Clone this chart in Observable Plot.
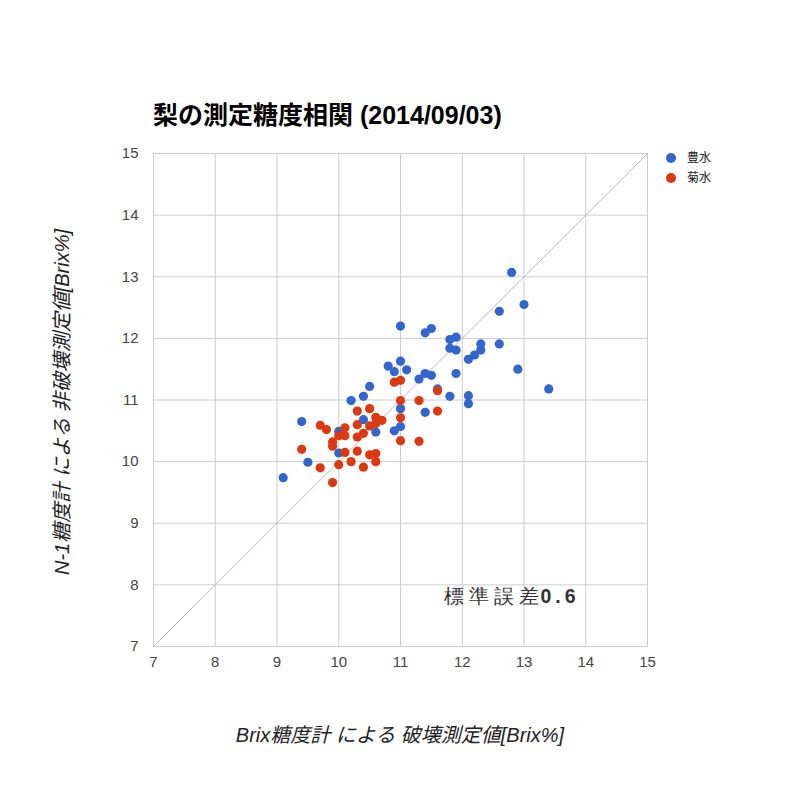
<!DOCTYPE html>
<html>
<head>
<meta charset="utf-8">
<script src="https://cdn.jsdelivr.net/npm/d3@7"></script>
<script src="https://cdn.jsdelivr.net/npm/@observablehq/plot@0.6"></script>
<style>
  body { margin: 0; background: #fff; font-family: Arial, "Liberation Sans", "Noto Sans CJK JP", sans-serif; }
  #wrap { position: relative; width: 800px; height: 800px; overflow: hidden; }
  #wrap svg { position: absolute; left: 0; top: 0; }
  .title { position: absolute; left: 153px; top: 103px; font-size: 25px; line-height: 25px; font-weight: bold; color: #000; white-space: nowrap; }
  .xlabel { position: absolute; left: 0; width: 800px; top: 724px; text-align: center; font-size: 20px; line-height: 22px; font-style: italic; color: #222; white-space: nowrap; }
  .ylabel { position: absolute; left: -188px; width: 500px; top: 391px; text-align: center; font-size: 20px; line-height: 22px; font-style: italic; color: #222; white-space: nowrap; transform: rotate(-90deg); }
  .legend { position: absolute; left: 666px; top: 150px; font-size: 12px; color: #222; }
  .legend div { height: 20px; line-height: 16px; white-space: nowrap; }
  .legend span.sw { display: inline-block; width: 10px; height: 10px; border-radius: 50%; margin-right: 11px; vertical-align: -1px; }
</style>
</head>
<body>
<div id="wrap"></div>
<script>
// ---- data ----
const seriesNames = ["豊水", "菊水"];
const seriesColors = ["#3366cc", "#dc3912"];

// 豊水 : [destructive Brix, N-1 non-destructive Brix]
const housuiX = [9.1, 9.4, 9.5, 10.0, 10.0, 10.2, 10.4, 10.5, 10.4, 10.6, 10.8, 10.9, 11.0, 11.1, 11.0, 11.0, 10.9, 11.3, 11.4, 11.5, 11.6, 11.8, 11.9, 11.4, 12.8, 13.0, 12.6, 11.0, 11.4, 11.5, 11.8, 11.9, 11.8, 11.9, 12.3, 12.3, 12.2, 12.1, 12.6, 12.9, 13.4, 12.1, 12.1];
const housuiY = [9.74, 10.65, 9.99, 10.49, 10.14, 10.99, 11.06, 11.22, 10.68, 10.48, 11.55, 11.46, 11.63, 11.49, 10.86, 10.57, 10.50, 11.34, 11.43, 11.40, 11.18, 11.06, 11.43, 10.80, 13.07, 12.55, 12.44, 12.20, 12.09, 12.16, 11.98, 12.02, 11.84, 11.81, 11.91, 11.81, 11.73, 11.66, 11.91, 11.50, 11.18, 11.07, 10.94];

// 菊水
const kikusuiX = [9.4, 9.7, 9.9, 9.7, 9.8, 9.9, 9.9, 10.0, 10.1, 10.1, 10.1, 10.0, 10.2, 10.3, 10.3, 10.3, 10.4, 10.3, 10.4, 10.5, 10.5, 10.6, 10.6, 10.7, 10.5, 10.6, 10.6, 10.9, 11.0, 11.0, 11.0, 11.0, 11.3, 11.3, 11.6, 11.6];
const kikusuiY = [10.20, 9.90, 9.66, 10.59, 10.52, 10.32, 10.25, 10.42, 10.55, 10.42, 10.15, 9.95, 10.00, 10.82, 10.60, 10.40, 10.46, 10.17, 9.91, 10.86, 10.58, 10.72, 10.62, 10.67, 10.11, 10.13, 10.00, 11.29, 11.32, 10.99, 10.71, 10.34, 10.99, 10.33, 11.15, 10.82];

const axisTicks = [7, 8, 9, 10, 11, 12, 13, 14, 15];
const titleText = "梨の測定糖度相関 (2014/09/03)";
const xLabel = "Brix糖度計 による 破壊測定値[Brix%]";
const yLabel = "N-1糖度計 による 非破壊測定値[Brix%]";
const annoLabel = "標準誤差";
const annoValue = "0.6";

// ---- build ----
const points = [
  ...housuiX.map((x, i) => ({x, y: housuiY[i], s: seriesNames[0]})),
  ...kikusuiX.map((x, i) => ({x, y: kikusuiY[i], s: seriesNames[1]}))
];
const diag = [axisTicks[0], axisTicks[axisTicks.length - 1]].map(v => ({x: v, y: v}));

const chart = Plot.plot({
  width: 800,
  height: 800,
  marginLeft: 153,
  marginRight: 153,
  marginTop: 153,
  marginBottom: 154,
  style: {fontFamily: 'Arial, "Liberation Sans", sans-serif', fontSize: "15px", color: "#444", background: "transparent"},
  x: {domain: [7, 15], label: null},
  y: {domain: [7, 15], label: null},
  color: {domain: seriesNames, range: seriesColors},
  marks: [
    Plot.gridX(axisTicks, {stroke: "#cccccc", strokeOpacity: 1}),
    Plot.gridY(axisTicks, {stroke: "#cccccc", strokeOpacity: 1}),
    Plot.frame({stroke: "#cccccc"}),
    Plot.line(diag, {x: "x", y: "y", stroke: "#bbbbbb", strokeWidth: 1}),
    Plot.dot(points, {x: "x", y: "y", fill: "s", r: 4.6}),
    Plot.axisX(axisTicks, {tickSize: 0, tickPadding: 10, tickFormat: "d", fill: "#444", label: null}),
    Plot.axisY(axisTicks, {tickSize: 0, tickPadding: 15, tickFormat: "d", fill: "#444", label: null}),
    Plot.text([annoLabel], {text: d => d, frameAnchor: "bottom-right", dx: -104, dy: -44, textAnchor: "end", fontSize: 19.5, fill: "#333"}),
    Plot.text([annoValue], {text: d => d, frameAnchor: "bottom-right", dx: -68, dy: -44, textAnchor: "end", fontSize: 19.5, fontWeight: "bold", fill: "#333"})
  ]
});

const wrap = document.getElementById("wrap");
wrap.appendChild(chart);
// letter spacing for annotation
chart.querySelectorAll("text").forEach(t => {
  if (t.textContent === annoLabel) t.setAttribute("letter-spacing", "5");
  if (t.textContent === annoValue) t.setAttribute("letter-spacing", "4");
});

const t = document.createElement("div"); t.className = "title"; t.textContent = titleText; wrap.appendChild(t);
const xl = document.createElement("div"); xl.className = "xlabel"; xl.textContent = xLabel; wrap.appendChild(xl);
const yl = document.createElement("div"); yl.className = "ylabel"; yl.textContent = yLabel; wrap.appendChild(yl);
const lg = document.createElement("div"); lg.className = "legend";
seriesNames.forEach((n, i) => {
  const row = document.createElement("div");
  const sw = document.createElement("span"); sw.className = "sw"; sw.style.background = seriesColors[i];
  row.appendChild(sw); row.appendChild(document.createTextNode(n));
  lg.appendChild(row);
});
wrap.appendChild(lg);
</script>
</body>
</html>
